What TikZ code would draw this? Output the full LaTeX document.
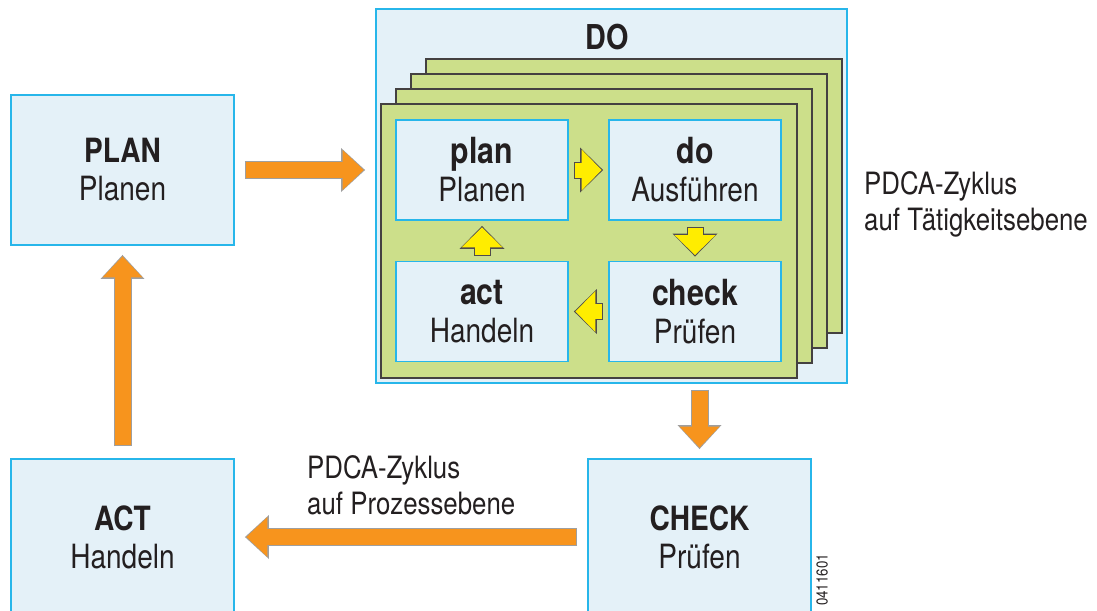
\documentclass[tikz,border=0pt]{standalone}
\usepackage{fontspec}
\setmainfont{TeX Gyre Heros}[FakeStretch=0.84]
\usetikzlibrary{arrows.meta}
\definecolor{boxfill}{HTML}{E4F1F8}
\definecolor{boxline}{HTML}{27B6EA}
\definecolor{sheetgreen}{HTML}{CCDF8A}
\definecolor{orangefill}{HTML}{F7941D}
\definecolor{yellowfill}{HTML}{FFED00}
\definecolor{textdark}{HTML}{231F20}
\newcommand\innerhead[1]{{\fontsize{20.5}{21.6}\selectfont\bfseries #1}}

\tikzset{
  bigbox/.style={draw=boxline, fill=boxfill, line width=1.1pt, minimum width=4.46cm, minimum height=3cm,
    align=center, text=textdark, font=\fontsize{19}{21.6}\selectfont},
  smallbox/.style={draw=boxline, fill=boxfill, line width=1.1pt, minimum width=3.44cm, minimum height=2cm,
    align=center, text=textdark, font=\fontsize{19}{21.6}\selectfont},
  sheet/.style={draw=textdark!85, fill=sheetgreen, line width=0.9pt},
  orangearrow/.style={draw=orangefill, line width=0.32cm, shorten <=0.02cm, shorten >=0.03cm,
    -{Triangle[length=0.42cm, width=0.8cm, line width=0pt, color=orangefill, fill=orangefill]},
    preaction={draw=gray!75, line width=0.36cm, shorten <=0pt, shorten >=0pt,
      -{Triangle[length=0.48cm, width=0.88cm, line width=0pt, color=gray!75, fill=gray!75]}}},
  yellowarrow/.style={draw=yellowfill, line width=0.3cm, shorten <=0.02cm, shorten >=0.03cm,
    -{Triangle[length=0.4cm, width=0.82cm, line width=0pt, color=yellowfill, fill=yellowfill]},
    preaction={draw=textdark!80, line width=0.34cm, shorten <=0pt, shorten >=0pt,
      -{Triangle[length=0.46cm, width=0.9cm, line width=0pt, color=textdark!80, fill=textdark!80]}}},
  sidetext/.style={anchor=west, align=left, text=textdark, font=\fontsize{17.5}{20.5}\selectfont}
}

\begin{document}
\begin{tikzpicture}[x=0.02cm, y=-0.02cm]
\useasboundingbox (0,0) rectangle (1097,610);

\node[bigbox] (PLAN) at (122.5,170) {\textbf{PLAN}\\Planen};
\node[bigbox, minimum height=3.12cm] (ACT) at (122.5,537) {\textbf{ACT}\\Handeln};
\node[bigbox, minimum height=3.12cm] (CHECK) at (699.5,537) {\textbf{CHECK}\\Prüfen};

\node[draw=boxline, fill=boxfill, line width=1.1pt, minimum width=9.42cm, minimum height=7.48cm] (DO) at (611.5,196) {};
\node[text=textdark, font=\fontsize{19.5}{22}\selectfont\bfseries] (dotitle) at (607,37) {DO};

\foreach \k in {3,2,1,0}
  \draw[sheet] (381+15*\k,104-15*\k) rectangle ++(416,274);

\node[smallbox] (plan) at (482,170) {\innerhead{plan}\\Planen};
\node[smallbox] (do) at (695,170) {\innerhead{do}\\Ausführen};
\node[smallbox] (act) at (482,311.5) {\innerhead{act}\\Handeln};
\node[smallbox] (check) at (695,311.5) {\innerhead{check}\\Prüfen};

\draw[yellowarrow] ([xshift=0.1cm]plan.east) -- ([xshift=-0.1cm]do.west);
\draw[yellowarrow] ([yshift=-0.12cm]do.south) -- ([yshift=0.08cm]check.north);
\draw[yellowarrow] ([xshift=-0.1cm]check.west) -- ([xshift=0.1cm]act.east);
\draw[yellowarrow] ([yshift=0.1cm]act.north) -- ([yshift=-0.1cm]plan.south);

\draw[orangearrow] ([xshift=0.2cm]PLAN.east) -- ([xshift=-0.2cm]PLAN.east -| DO.west);
\draw[orangearrow] ([yshift=-0.12cm]DO.south -| CHECK.north) -- ([yshift=0.18cm]CHECK.north);
\draw[orangearrow] ([xshift=-0.2cm]CHECK.west) -- ([xshift=0.2cm]ACT.east);
\draw[orangearrow] ([yshift=0.24cm]ACT.north) -- ([yshift=-0.18cm]PLAN.south);

\node[sidetext] (tlabel) at (858,204) {PDCA-Zyklus\\auf Tätigkeitsebene};
\node[sidetext] (plabel) at (301,485) {PDCA-Zyklus\\auf Prozessebene};
\node[rotate=90, text=textdark, font=\fontsize{9}{10}\selectfont] (code) at (822,580) {0411601};
\end{tikzpicture}
\end{document}
